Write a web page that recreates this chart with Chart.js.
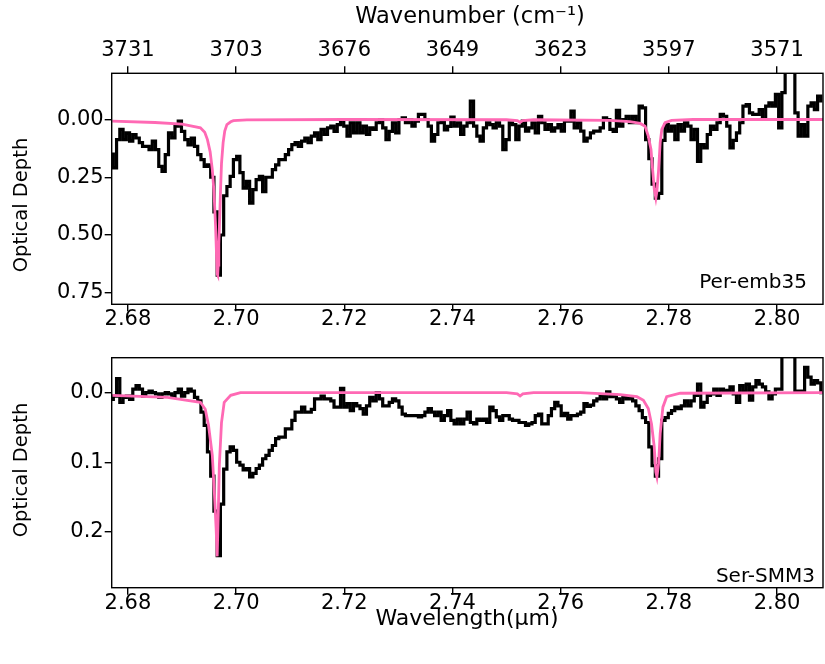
<!DOCTYPE html>
<html>
<head>
<meta charset="utf-8">
<script src="https://cdn.jsdelivr.net/npm/chart.js@4.4.1/dist/chart.umd.min.js"></script>
<style>
  html, body { margin: 0; padding: 0; background: #fff; }
  #wrap { position: relative; width: 825px; height: 664px; }
  canvas { position: absolute; left: 0; }
</style>
</head>
<body>
<div id="wrap">
  <canvas id="topPanel" width="825" height="350" style="top:0"></canvas>
  <canvas id="bottomPanel" width="825" height="332" style="top:332px"></canvas>
</div>
<script>
// wavelength grid of the spectra (micron)
const wavelength = [
  2.6770, 2.6776, 2.6782, 2.6788, 2.6794, 2.6800, 2.6806, 2.6812, 2.6818, 2.6824,
  2.6830, 2.6836, 2.6842, 2.6848, 2.6854, 2.6860, 2.6866, 2.6872, 2.6878, 2.6884,
  2.6890, 2.6896, 2.6902, 2.6908, 2.6914, 2.6920, 2.6926, 2.6932, 2.6938, 2.6944,
  2.6950, 2.6956, 2.6962, 2.6968, 2.6974, 2.6980, 2.6986, 2.6992, 2.6998, 2.7004,
  2.7010, 2.7016, 2.7022, 2.7028, 2.7034, 2.7040, 2.7046, 2.7052, 2.7058, 2.7064,
  2.7070, 2.7076, 2.7082, 2.7088, 2.7094, 2.7100, 2.7106, 2.7112, 2.7118, 2.7124,
  2.7130, 2.7136, 2.7142, 2.7148, 2.7154, 2.7160, 2.7166, 2.7172, 2.7178, 2.7184,
  2.7190, 2.7196, 2.7202, 2.7208, 2.7214, 2.7220, 2.7226, 2.7232, 2.7238, 2.7244,
  2.7250, 2.7256, 2.7262, 2.7268, 2.7274, 2.7280, 2.7286, 2.7292, 2.7298, 2.7304,
  2.7310, 2.7316, 2.7322, 2.7328, 2.7334, 2.7340, 2.7346, 2.7352, 2.7358, 2.7364,
  2.7370, 2.7376, 2.7382, 2.7388, 2.7394, 2.7400, 2.7406, 2.7412, 2.7418, 2.7424,
  2.7430, 2.7436, 2.7442, 2.7448, 2.7454, 2.7460, 2.7466, 2.7472, 2.7478, 2.7484,
  2.7490, 2.7496, 2.7502, 2.7508, 2.7514, 2.7520, 2.7526, 2.7532, 2.7538, 2.7544,
  2.7550, 2.7556, 2.7562, 2.7568, 2.7574, 2.7580, 2.7586, 2.7592, 2.7598, 2.7604,
  2.7610, 2.7616, 2.7622, 2.7628, 2.7634, 2.7640, 2.7646, 2.7652, 2.7658, 2.7664,
  2.7670, 2.7676, 2.7682, 2.7688, 2.7694, 2.7700, 2.7706, 2.7712, 2.7718, 2.7724,
  2.7730, 2.7736, 2.7742, 2.7748, 2.7754, 2.7760, 2.7766, 2.7772, 2.7778, 2.7784,
  2.7790, 2.7796, 2.7802, 2.7808, 2.7814, 2.7820, 2.7826, 2.7832, 2.7838, 2.7844,
  2.7850, 2.7856, 2.7862, 2.7868, 2.7874, 2.7880, 2.7886, 2.7892, 2.7898, 2.7904,
  2.7910, 2.7916, 2.7922, 2.7928, 2.7934, 2.7940, 2.7946, 2.7952, 2.7958, 2.7964,
  2.7970, 2.7976, 2.7982, 2.7988, 2.7994, 2.8000, 2.8006, 2.8012, 2.8018, 2.8024,
  2.8030, 2.8036, 2.8042, 2.8048, 2.8054, 2.8060, 2.8066, 2.8072, 2.8078, 2.8084
];

// observed optical depth, Per-emb35
const tauPerEmb35 = [
  0.15, 0.21, 0.087, 0.043, 0.087, 0.058, 0.094, 0.065, 0.08, 0.10,
  0.116, 0.116, 0.13, 0.094, 0.13, 0.203, 0.225, 0.152, 0.058, 0.08,
  0.029, 0.007, 0.051, 0.087, 0.11, 0.08, 0.116, 0.152, 0.174, 0.203,
  0.196, 0.25, 0.40, 0.674, 0.50, 0.33, 0.29, 0.246, 0.174, 0.159,
  0.23, 0.297, 0.268, 0.362, 0.304, 0.26, 0.246, 0.312, 0.25, 0.25,
  0.217, 0.196, 0.174, 0.174, 0.152, 0.13, 0.109, 0.10, 0.116, 0.094,
  0.08, 0.10, 0.072, 0.058, 0.087, 0.043, 0.065, 0.036, 0.029, 0.051,
  0.022, 0.0, 0.029, 0.072, 0.014, 0.058, 0.014, 0.058, 0.029, 0.065,
  0.036, 0.043, 0.014, 0.0, 0.036, 0.087, 0.051, 0.014, 0.058, 0.0,
  -0.007, 0.014, 0.0, 0.029, 0.007, -0.022, -0.022, 0.0, 0.029, 0.094,
  0.065, 0.014, 0.01, 0.045, 0.03, -0.01, 0.029, 0.014, 0.065, 0.029,
  0.014, -0.08, 0.029, 0.072, 0.094, 0.036, 0.014, 0.022, 0.036, 0.014,
  0.029, 0.13, 0.087, 0.014, 0.022, 0.087, 0.029, 0.007, 0.05, 0.036,
  0.014, 0.058, -0.014, 0.014, 0.043, 0.022, 0.05, 0.036, 0.022, 0.05,
  0.007, 0.007, -0.036, 0.036, 0.014, 0.05, 0.094, 0.08, 0.058, 0.05,
  0.05, 0.036, -0.007, 0.0, 0.043, 0.051, -0.04, 0.029, 0.0, -0.014,
  0.014, -0.014, 0.014, -0.058, -0.05, 0.087, 0.17, 0.28, 0.34, 0.32,
  0.09, 0.022, 0.05, 0.029, 0.087, 0.022, 0.05, 0.014, 0.029, 0.087,
  0.043, 0.181, 0.109, 0.123, 0.065, 0.029, 0.043, 0.014, -0.022, -0.014,
  0.029, 0.123, 0.09, 0.058, 0.014, -0.058, -0.065, -0.029, -0.022, -0.022,
  -0.043, 0.0, -0.058, -0.072, -0.058, -0.109, 0.036, -0.116, -0.25, -0.3,
  -0.25, -0.029, 0.072, 0.022, 0.072, -0.058, -0.072, -0.043, -0.101, -0.08
];

// observed optical depth, Ser-SMM3
const tauSerSMM3 = [
  0.01, 0.005, -0.02, 0.014, 0.007, 0.005, 0.01, -0.005, -0.01, -0.005,
  0.005, 0.0, -0.002, 0.0, 0.002, 0.007, 0.002, 0.0, 0.002, 0.007,
  0.0, -0.005, 0.005, 0.0, -0.005, -0.002, 0.007, 0.012, 0.028, 0.047,
  0.085, 0.12, 0.17, 0.234, 0.16, 0.11, 0.085, 0.078, 0.083, 0.1,
  0.104, 0.111, 0.109, 0.121, 0.116, 0.109, 0.104, 0.095, 0.09, 0.083,
  0.076, 0.066, 0.064, 0.064, 0.052, 0.052, 0.04, 0.028, 0.028, 0.021,
  0.028, 0.028, 0.024, 0.009, 0.009, 0.005, 0.009, 0.009, 0.012, 0.021,
  0.021, -0.006, 0.021, 0.016, 0.026, 0.016, 0.019, 0.023, 0.031, 0.019,
  0.007, 0.012, 0.0, 0.009, 0.019, 0.019, 0.014, 0.009, 0.012, 0.021,
  0.031, 0.033, 0.033, 0.033, 0.033, 0.035, 0.033, 0.028, 0.023, 0.028,
  0.033, 0.028, 0.04, 0.033, 0.026, 0.04, 0.045, 0.038, 0.045, 0.038,
  0.028, 0.043, 0.045, 0.038, 0.04, 0.038, 0.043, 0.021, 0.026, 0.035,
  0.04, 0.033, 0.033, 0.038, 0.04, 0.04, 0.043, 0.043, 0.047, 0.045,
  0.043, 0.033, 0.031, 0.045, 0.045, 0.033, 0.023, 0.014, 0.019, 0.033,
  0.03, 0.038, 0.033, 0.033, 0.031, 0.028, 0.016, 0.02, 0.018, 0.012,
  0.009, 0.004, 0.009, -0.001, 0.006, 0.004, 0.009, 0.014, 0.006, 0.009,
  0.006, 0.012, 0.019, 0.026, 0.036, 0.043, 0.078, 0.105, 0.12, 0.095,
  0.04, 0.036, 0.03, 0.026, 0.021, 0.023, 0.019, 0.012, 0.019, 0.012,
  0.004, -0.012, 0.021, 0.014, 0.004, 0.002, -0.005, 0.004, -0.005, -0.001,
  -0.003, -0.008, 0.002, 0.014, -0.01, -0.001, -0.012, 0.011, -0.008, -0.017,
  -0.012, -0.008, -0.001, 0.009, 0.002, -0.005, -0.005, -0.07, -0.08, -0.08,
  -0.07, -0.002, -0.002, -0.002, -0.036, -0.022, -0.012, -0.017, -0.014, 0.0
];

// model (pink) curves
const modelWavelengthTop = [
  2.6771, 2.6850, 2.6900, 2.6934, 2.6942, 2.6947, 2.6952, 2.6956, 2.6959, 2.6962,
  2.6964, 2.6965, 2.6966, 2.6967, 2.6968, 2.6970, 2.6971, 2.6973, 2.6976, 2.6979,
  2.6983, 2.6990, 2.6995, 2.7020, 2.7200, 2.7500, 2.7520, 2.7525, 2.7530, 2.7550,
  2.7691, 2.7728, 2.7747, 2.7756, 2.7762, 2.7767, 2.7770, 2.7773, 2.7776, 2.7778,
  2.7781, 2.7784, 2.7787, 2.7793, 2.7805, 2.7845, 2.8085
];
const modelPerEmb35 = [
  0.007, 0.013, 0.02, 0.036, 0.055, 0.087, 0.14, 0.217, 0.31, 0.46,
  0.60, 0.67, 0.675, 0.63, 0.54, 0.40, 0.32, 0.19, 0.10, 0.05,
  0.022, 0.01, 0.005, 0.002, 0.0, 0.001, 0.005, 0.012, 0.005, 0.001,
  0.004, 0.009, 0.017, 0.029, 0.072, 0.13, 0.217, 0.30, 0.34, 0.31,
  0.22, 0.10, 0.043, 0.014, 0.004, 0.0, 0.0
];
const modelWavelengthBottom = [
  2.6771, 2.6873, 2.6934, 2.6943, 2.6949, 2.6956, 2.6960, 2.6963, 2.6965, 2.6967,
  2.6969, 2.6973, 2.6978, 2.6990, 2.7008, 2.7500, 2.7520, 2.7525, 2.7530, 2.7550,
  2.7636, 2.7710, 2.7741, 2.7753, 2.7762, 2.7768, 2.7773, 2.7776, 2.7778, 2.7781,
  2.7784, 2.7789, 2.7796, 2.7821, 2.8085
];
const modelSerSMM3 = [
  0.004, 0.007, 0.014, 0.024, 0.047, 0.09, 0.147, 0.194, 0.235, 0.175,
  0.104, 0.043, 0.014, 0.004, 0.0, 0.0, 0.002, 0.005, 0.002, 0.0,
  0.0, 0.003, 0.006, 0.011, 0.023, 0.045, 0.078, 0.114, 0.121, 0.102,
  0.059, 0.021, 0.006, 0.001, 0.0
];

// tick labels
const wavelengthTicks = [2.68, 2.70, 2.72, 2.74, 2.76, 2.78, 2.80];
const wavenumberLabels = ['3731', '3703', '3676', '3649', '3623', '3597', '3571'];
const tauTicksTop = [0, 0.25, 0.5, 0.75];
const tauTicksBottom = [0, 0.1, 0.2];

const FONT = 'DejaVu Sans';
const tickFont = { family: FONT, size: 21 };
Chart.defaults.font.family = FONT;
Chart.defaults.color = '#000';

// frame around the plot area plus free text (titles, source names)
const framePlugin = {
  id: 'frame',
  afterDraw(chart, args, opts) {
    const { ctx, chartArea: a } = chart;
    ctx.save();
    ctx.strokeStyle = '#000';
    ctx.lineWidth = 1.4;
    ctx.strokeRect(a.left, a.top, a.right - a.left, a.bottom - a.top);
    ctx.fillStyle = '#000';
    (opts.texts || []).forEach(t => {
      ctx.save();
      ctx.font = (t.size || 20) + 'px "' + FONT + '"';
      ctx.textAlign = t.align || 'center';
      ctx.textBaseline = t.baseline || 'middle';
      ctx.translate(t.x, t.y);
      if (t.rotate) ctx.rotate(t.rotate);
      ctx.fillText(t.text, 0, 0);
      ctx.restore();
    });
    ctx.restore();
  }
};

function toPoints(xs, ys) {
  return xs.map((x, i) => ({ x: x, y: ys[i] }));
}

function tickGrid() {
  return { drawOnChartArea: false, drawTicks: true, tickLength: 7, color: '#000', lineWidth: 1.4 };
}

function makePanel(canvasId, cfg) {
  const scales = {
    x: {
      type: 'linear', position: 'bottom', min: 2.677, max: 2.8085,
      afterBuildTicks: s => { s.ticks = wavelengthTicks.map(v => ({ value: v })); },
      afterFit: s => { s.height = cfg.bottomAxisHeight; },
      ticks: { font: tickFont, color: '#000', padding: -4, maxRotation: 0, autoSkip: false,
               callback: v => v.toFixed(2) },
      grid: tickGrid(),
      border: { display: false }
    },
    y: {
      type: 'linear', reverse: true, min: cfg.yMin, max: cfg.yMax,
      afterBuildTicks: s => { s.ticks = cfg.yTicks.map(v => ({ value: v })); },
      afterFit: s => { s.width = 111.7; },
      ticks: { font: tickFont, color: '#000', padding: 1, autoSkip: false,
               callback: v => v.toFixed(cfg.yDecimals) },
      grid: tickGrid(),
      border: { display: false }
    }
  };
  if (cfg.topAxis) {
    scales.x2 = {
      type: 'linear', axis: 'x', position: 'top', min: 2.677, max: 2.8085,
      afterBuildTicks: s => { s.ticks = wavelengthTicks.map(v => ({ value: v })); },
      afterFit: s => { s.height = cfg.topAxisHeight; },
      ticks: { font: tickFont, color: '#000', padding: 3, maxRotation: 0, autoSkip: false,
               callback: (v, i) => wavenumberLabels[i] },
      grid: tickGrid(),
      border: { display: false }
    };
  }

  return new Chart(document.getElementById(canvasId), {
    type: 'line',
    data: {
      datasets: [
        {
          label: 'model',
          data: toPoints(cfg.modelX, cfg.modelY),
          xAxisID: 'x', yAxisID: 'y',
          borderColor: '#ff69b4', borderWidth: 2.8,
          pointRadius: 0, tension: 0, order: 0
        },
        {
          label: 'observed',
          data: toPoints(wavelength, cfg.tau),
          xAxisID: 'x', yAxisID: 'y',
          borderColor: '#000', borderWidth: 3.2,
          pointRadius: 0, stepped: 'middle', order: 1
        }
      ]
    },
    options: {
      responsive: false,
      animation: false,
      devicePixelRatio: 1,
      layout: { padding: { left: 0, right: 2, top: cfg.padTop, bottom: 0 } },
      plugins: {
        legend: { display: false },
        tooltip: { enabled: false },
        frame: { texts: cfg.texts }
      },
      scales: scales
    },
    plugins: [framePlugin]
  });
}

makePanel('topPanel', {
  tau: tauPerEmb35, modelX: modelWavelengthTop, modelY: modelPerEmb35,
  yMin: -0.2, yMax: 0.8, yTicks: tauTicksTop, yDecimals: 2,
  topAxis: true, topAxisHeight: 73.3, bottomAxisHeight: 45.7, padTop: 0,
  texts: [
    { text: 'Wavenumber (cm\u207B\u00B9)', x: 470, y: 17, size: 22.5 },
    { text: 'Optical Depth', x: 22, y: 205, rotate: -Math.PI / 2, size: 19.5 },
    { text: 'Per-emb35', x: 807, y: 288, align: 'right', baseline: 'alphabetic' }
  ]
});

makePanel('bottomPanel', {
  tau: tauSerSMM3, modelX: modelWavelengthBottom, modelY: modelSerSMM3,
  yMin: -0.05, yMax: 0.28, yTicks: tauTicksBottom, yDecimals: 1,
  topAxis: false, bottomAxisHeight: 76.3, padTop: 25.7,
  texts: [
    { text: 'Optical Depth', x: 22, y: 138, rotate: -Math.PI / 2, size: 19.5 },
    { text: 'Wavelength(\u03BCm)', x: 467, y: 287, size: 22 },
    { text: 'Ser-SMM3', x: 815, y: 250, align: 'right', baseline: 'alphabetic' }
  ]
});
</script>
</body>
</html>
